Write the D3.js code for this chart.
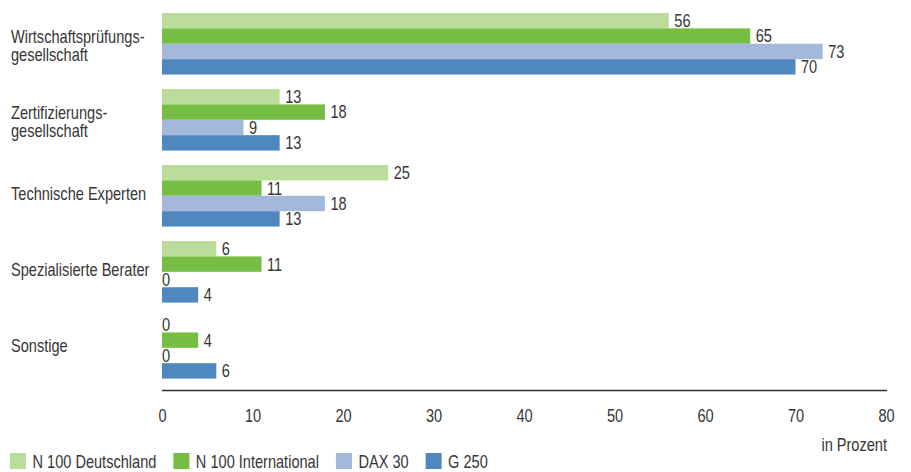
<!DOCTYPE html>
<html>
<head>
<meta charset="utf-8">
<script src="https://cdn.jsdelivr.net/npm/d3@7"></script>
<style>
  html, body { margin: 0; padding: 0; background: #fff; }
  svg text { font-family: "Liberation Sans", Arial, sans-serif; fill: #363636; }
</style>
</head>
<body>
<svg id="chart" width="911" height="472"></svg>
<script>
// Anbieter der externen Prüfung – Anteile in Prozent
const categories = [
  "Wirtschaftsprüfungs-\ngesellschaft",
  "Zertifizierungs-\ngesellschaft",
  "Technische Experten",
  "Spezialisierte Berater",
  "Sonstige"
];
const seriesNames = ["N 100 Deutschland", "N 100 International", "DAX 30", "G 250"];
const n100Deutschland    = [56, 13, 25, 6, 0];
const n100International  = [65, 18, 11, 11, 4];
const dax30              = [73, 9, 18, 0, 0];
const g250               = [70, 13, 13, 4, 6];
const xTicks = [0, 10, 20, 30, 40, 50, 60, 70, 80];
const unitLabel = "in Prozent";

const seriesValues = [n100Deutschland, n100International, dax30, g250];
const colors = ["#bcdc9c", "#76bd43", "#a3b8da", "#4f87bf"];

const svg = d3.select("#chart");
const fs = 18;
const narrow = 0.81; // horizontal squeeze for a condensed face

// condensed text placed at (px, py)
function label(parent, px, py, txt, anchor) {
  return parent.append("text")
    .attr("transform", `translate(${px},${py}) scale(${narrow},1)`)
    .attr("text-anchor", anchor || "start")
    .attr("font-size", fs)
    .text(txt);
}

const x = d3.scaleLinear().domain([0, 80]).range([162, 886]);
const y = d3.scaleBand().domain(categories).range([13, 378.6]).paddingInner(0.19).paddingOuter(0);
const ySub = d3.scaleBand().domain(seriesNames).range([0, y.bandwidth()]).padding(0);

const rows = categories.map((c, i) => ({
  cat: c,
  items: seriesNames.map((s, j) => ({ series: s, value: seriesValues[j][i], color: colors[j] }))
}));

const groups = svg.append("g").selectAll("g.row").data(rows).join("g")
  .attr("class", "row")
  .attr("transform", d => `translate(0,${y(d.cat)})`);

groups.selectAll("rect").data(d => d.items).join("rect")
  .attr("x", x(0))
  .attr("y", d => ySub(d.series))
  .attr("width", d => x(d.value) - x(0))
  .attr("height", ySub.bandwidth())
  .attr("fill", d => d.color);

groups.each(function(d) {
  const g = d3.select(this);
  // value labels at the end of each bar
  d.items.forEach(it => {
    const px = it.value === 0 ? x(0) : x(it.value) + 5.5;
    label(g, px, ySub(it.series) + ySub.bandwidth() / 2 + 6.4, it.value);
  });
  // category labels, vertically centred on their group
  const lines = d.cat.split("\n");
  const first = y.bandwidth() / 2 + 4.6 - (lines.length - 1) * 5.8;
  lines.forEach((ln, k) => label(g, 11, first + k * 18.2, ln));
});

// x axis
const axisY = 390.5;
svg.append("line")
  .attr("x1", x(0)).attr("x2", x(80) + 1)
  .attr("y1", axisY).attr("y2", axisY)
  .attr("stroke", "#333").attr("stroke-width", 1.5);

const axis = d3.axisBottom(x).tickValues(xTicks).tickSize(0).tickPadding(0).tickFormat(d3.format("d"));
const gAxis = svg.append("g").attr("transform", `translate(0,${axisY})`).call(axis);
gAxis.attr("font-family", null).attr("font-size", null);
gAxis.select(".domain").remove();
gAxis.selectAll(".tick text")
  .attr("dy", null)
  .attr("y", null)
  .attr("transform", `translate(0,31.5) scale(${narrow},1)`)
  .attr("font-size", fs)
  .attr("fill", "#363636");

label(svg, 887, 450.5, unitLabel, "end");

// legend
const legend = svg.append("g");
let lx = 10;
seriesNames.forEach((s, j) => {
  legend.append("rect")
    .attr("x", lx).attr("y", 453).attr("width", 16).attr("height", 16)
    .attr("fill", colors[j]);
  const t = label(legend, lx + 22.5, 468, s);
  lx += 22.5 + t.node().getComputedTextLength() * narrow + 17;
});
</script>
</body>
</html>
